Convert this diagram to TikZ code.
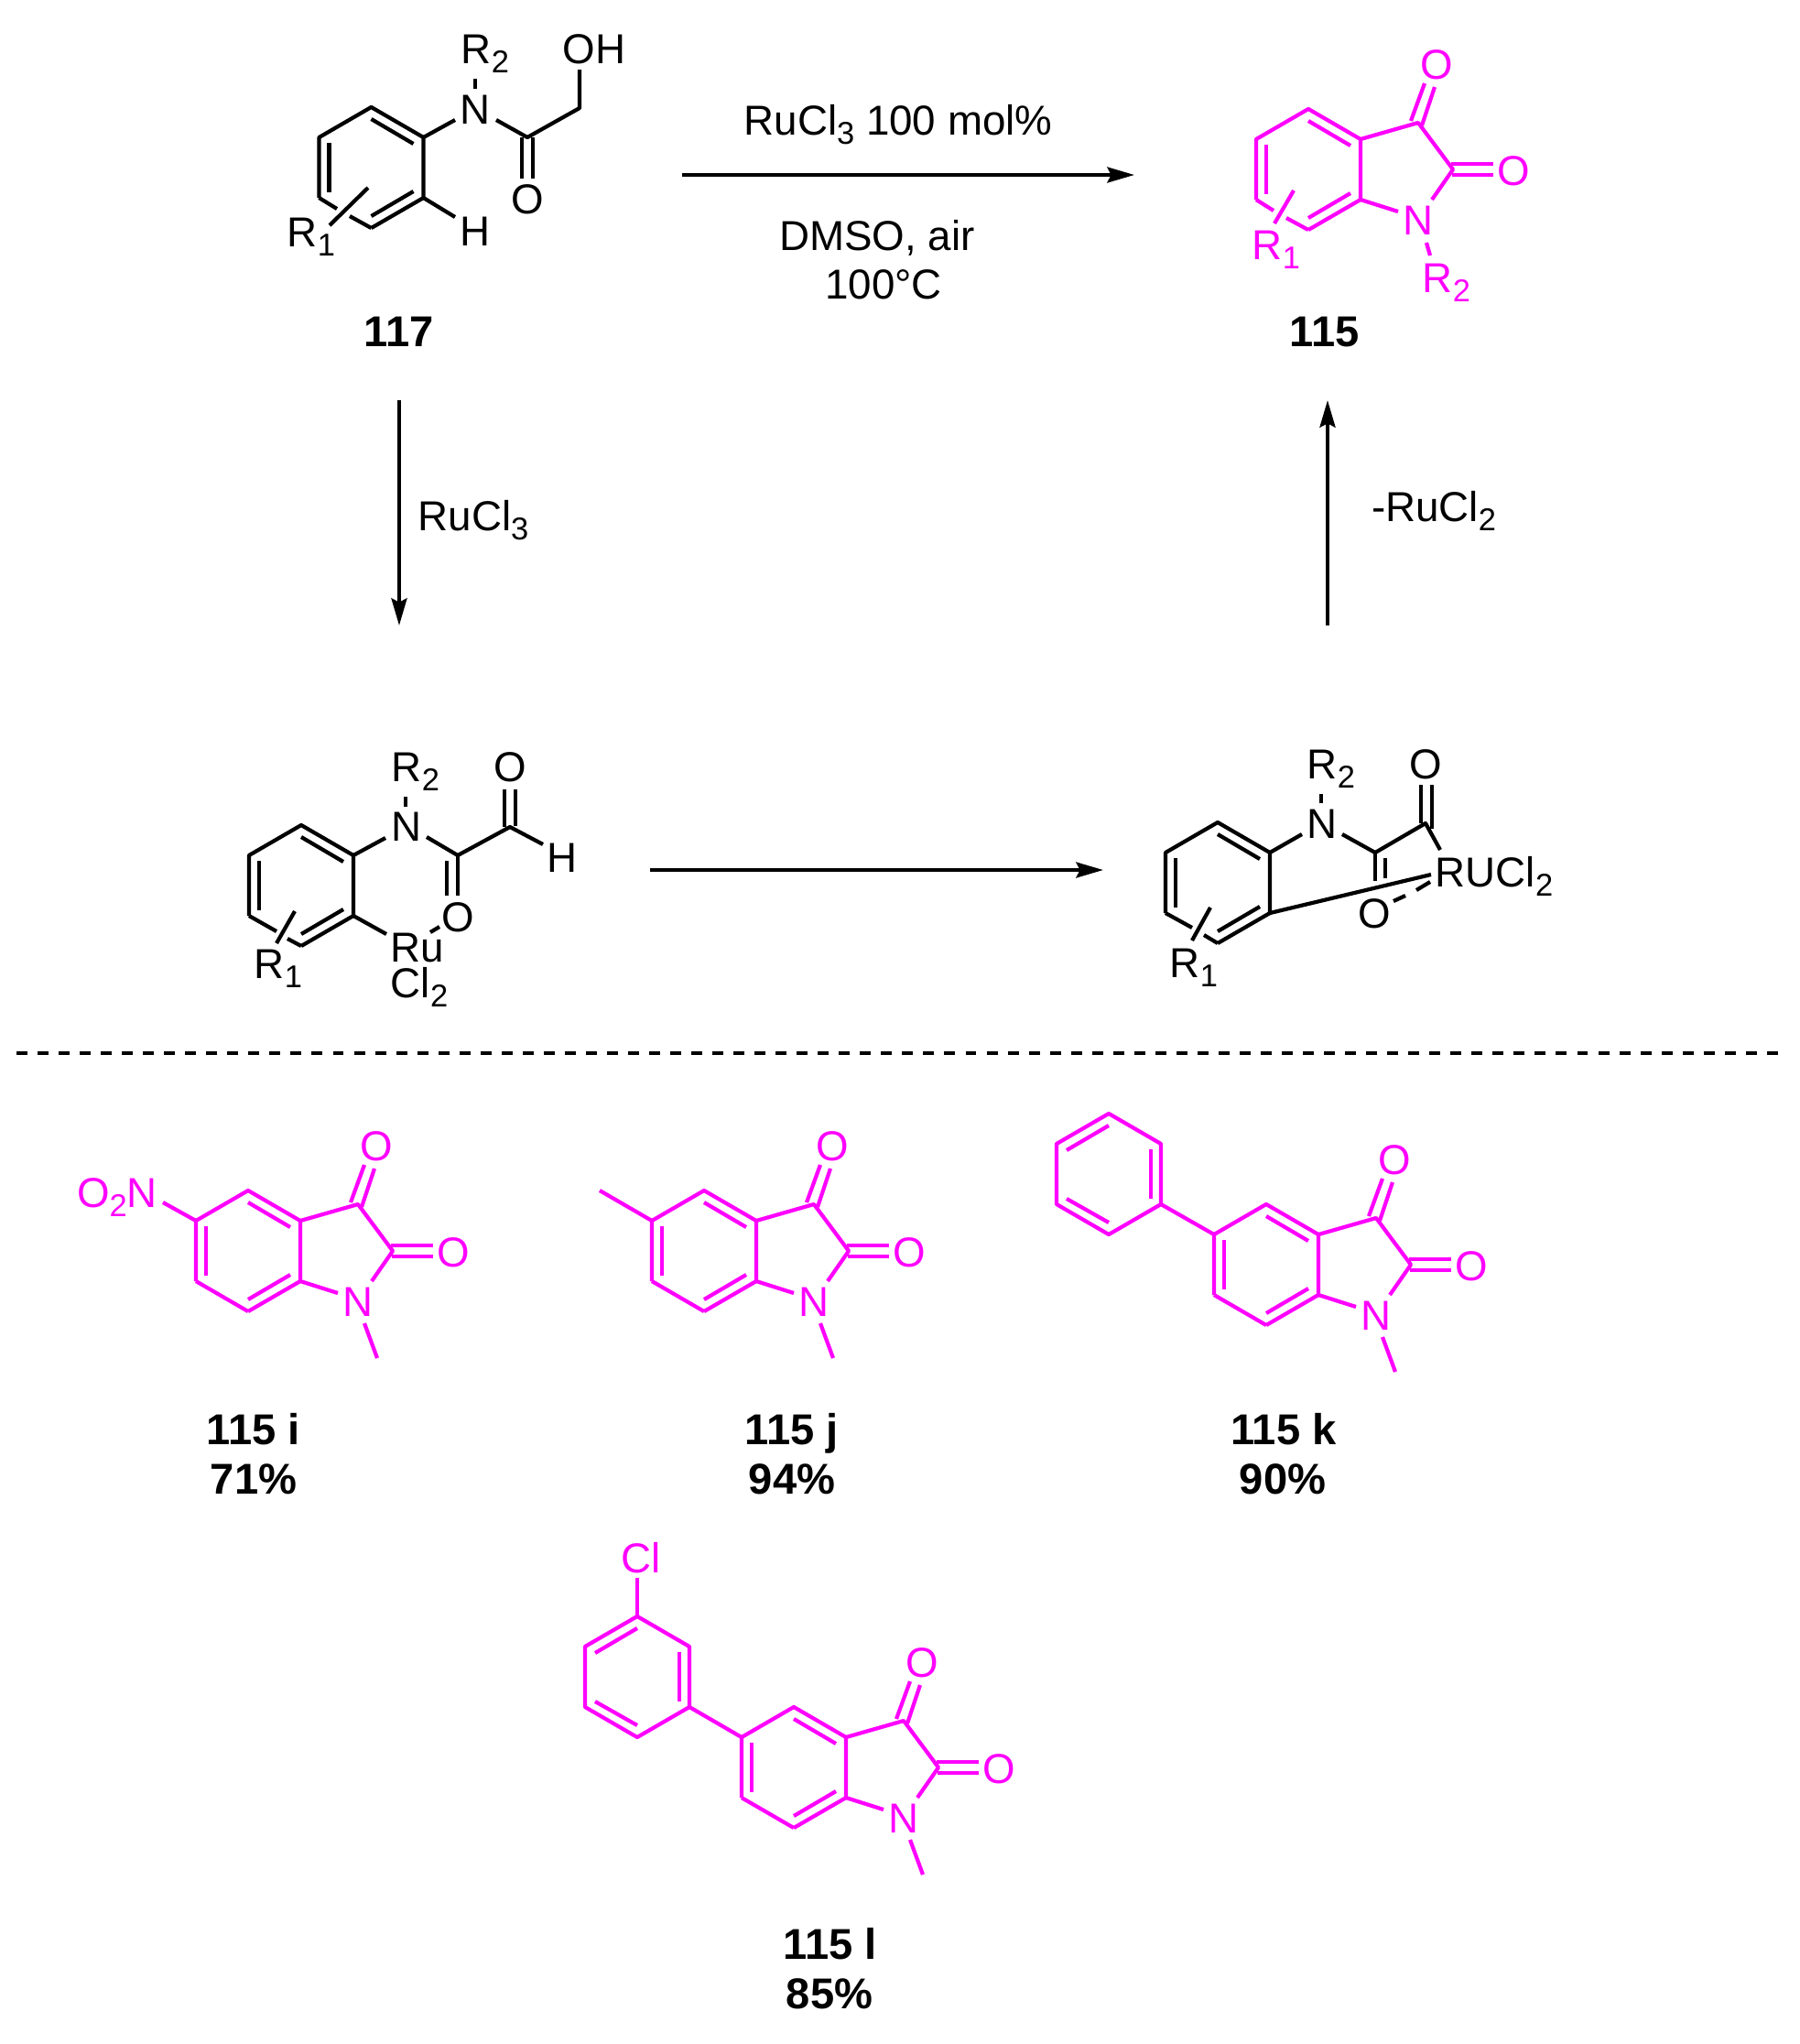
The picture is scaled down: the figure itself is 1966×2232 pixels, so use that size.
\documentclass[tikz,border=0pt]{standalone}
\usepackage{fontspec}
\setmainfont{Liberation Sans}
\usetikzlibrary{arrows.meta}
\definecolor{isatin}{RGB}{255,0,255}
\newcommand{\subnum}[1]{\raisebox{-3pt}{\fontsize{9.8pt}{9.8pt}\selectfont #1}}
\tikzset{
	bond/.style={line width=1.2pt, line join=round},
	atom/.style={inner sep=0pt, anchor=base, font=\fontsize{13pt}{13pt}\selectfont},
	cmpd/.style={inner sep=0pt, anchor=base, font=\bfseries\fontsize{13.4pt}{13.4pt}\selectfont},
	rxn/.style={line width=1.2pt, -{Stealth[length=8.4pt,width=4.8pt,inset=1.2pt]}},
	sep/.style={line width=1.2pt, dash pattern=on 3.4pt off 3.15pt}
}
%six-ring, bottom left edge left out
\newcommand{\ringbonds}{
	\draw[bond] (-57,33)--(-57,-33)--(0,-66)--(57,-33)--(57,33)--(0,66);
	\draw[bond] (0,-53)--(46,-26);
	\draw[bond] (46,26)--(0,53);
	\draw[bond] (-46,-27)--(-46,27);
}
%isatin skeleton, #1 is the prefix of the node names
\newcommand{\isatincore}[1]{
	\ringbonds
	\draw[bond] (57,-33)--(120,-51)--(158,0)--(135,33);
	\draw[bond] (57,33)--(98,46);
	\draw[bond] (112,-53)--(127,-94);
	\draw[bond] (124,-48)--(138,-90);
	\draw[bond] (156,-6)--(202,-6);
	\draw[bond] (157,6)--(202,6);
	\node[atom] (#1Oa) at (140,-99) {O};
	\node[atom] (#1Ob) at (224,17)  {O};
	\node[atom] (#1N)  at (120,71)  {N};
}
\newcommand{\phenyl}{
	\draw[bond] (-57,33)--(-57,-33)--(0,-66)--(57,-33)--(57,33)--(0,66)--cycle;
	\draw[bond] (-46,-26)--(0,-53);
	\draw[bond] (46,-27)--(46,27);
	\draw[bond] (-46,27)--(0,53);
}
\begin{document}
\begin{tikzpicture}[x=0.01cm,y=-0.01cm]
	\useasboundingbox (0,0) rectangle (1966,2232);
	
	%substrate
	\begin{scope}[shift={(405.5,183)}]
		\ringbonds
	\end{scope}
	\draw[bond] (348.5,216)--(368,228);
	\draw[bond] (382,236)--(405.5,249);
	\draw[bond] (402,205)--(360,246);
	\draw[bond] (462.5,150)--(497,131);
	\draw[bond] (542,131)--(576,150)--(633,118)--(633,76);
	\draw[bond] (570,150)--(570,195);
	\draw[bond] (582,150)--(582,195);
	\draw[bond] (519,86)--(519,97);
	\draw[bond] (462.5,216)--(497,237);
	\node[atom] (subN)  at (519,135)  {N};
	\node[atom] (subR)  at (530,69)   {R\subnum{2}};
	\node[atom] (subOH) at (649,69)   {OH};
	\node[atom] (subO)  at (576,233)  {O};
	\node[atom] (subH)  at (519,268)  {H};
	\node[atom] (subRa) at (340,269)  {R\subnum{1}};
	\node[cmpd] (lab117) at (436,378) {117};
	
	%product
	\begin{scope}[shift={(1429,185)},color=isatin]
		\isatincore{prod}
		\draw[bond] (-57,33)--(-38,45);
		\draw[bond] (-24,53)--(0,66);
		\draw[bond] (-16,23)--(-37,59);
		\draw[bond] (129,80)--(133,94);
		\node[atom] (prodR)  at (151,134) {R\subnum{2}};
		\node[atom] (prodRa) at (-35,98)  {R\subnum{1}};
	\end{scope}
	\node[cmpd] (lab115) at (1447,378) {115};
	
	%ruthenium complex, left
	\begin{scope}[shift={(329,967)}]
		\ringbonds
	\end{scope}
	\draw[bond] (272,1000)--(302,1017);
	\draw[bond] (314,1025)--(329,1033);
	\draw[bond] (322,995)--(302,1030);
	\draw[bond] (386,934)--(421,915);
	\draw[bond] (466,914)--(500,934)--(557,903)--(593,922);
	\draw[bond] (488,940)--(488,978);
	\draw[bond] (500,934)--(500,978);
	\draw[bond] (551,903)--(551,862);
	\draw[bond] (563,902)--(563,862);
	\draw[bond] (443,870)--(443,881);
	\draw[bond] (386,1000)--(422,1020);
	\draw[bond] (470,1018)--(480,1012);
	\node[atom] (ruN)  at (444,918)  {N};
	\node[atom] (ruR)  at (454,853)  {R\subnum{2}};
	\node[atom] (ruOa) at (557,853)  {O};
	\node[atom] (ruH)  at (614,952)  {H};
	\node[atom] (ruOb) at (500,1017) {O};
	\node[atom] (ruM)  at (456,1050) {Ru};
	\node[atom] (ruCl) at (458,1089) {Cl\subnum{2}};
	\node[atom] (ruRa) at (304,1068) {R\subnum{1}};
	
	%ruthenium complex, right
	\begin{scope}[shift={(1330,964)}]
		\ringbonds
	\end{scope}
	\draw[bond] (1273,997)--(1302,1013);
	\draw[bond] (1315,1021)--(1330,1030);
	\draw[bond] (1322,991)--(1302,1027);
	\draw[bond] (1387,931)--(1422,911);
	\draw[bond] (1466,911)--(1502,931)--(1557,899)--(1573,928);
	\draw[bond] (1502,931)--(1502,962);
	\draw[bond] (1513,937)--(1513,959);
	\draw[bond] (1552,899)--(1552,857);
	\draw[bond] (1564,905)--(1564,857);
	\draw[bond] (1443,867)--(1443,877);
	\draw[bond] (1387,997)--(1563,955);
	\draw[bond] (1547,972)--(1562,963);
	\draw[bond] (1522,984)--(1535,978);
	\node[atom] (rcN)  at (1444,915)  {N};
	\node[atom] (rcR)  at (1454,850)  {R\subnum{2}};
	\node[atom] (rcOa) at (1557,850)  {O};
	\node[atom] (rcOb) at (1501,1013) {O};
	\node[atom] (rcM)  at (1632,968)  {RUCl\subnum{2}};
	\node[atom] (rcRa) at (1304,1067) {R\subnum{1}};
	
	%arrows
	\coordinate (topa) at (745,191);
	\coordinate (topb) at (1239,191);
	\coordinate (lefta) at (436,437);
	\coordinate (leftb) at (436,683);
	\coordinate (righta) at (1450,683);
	\coordinate (rightb) at (1450,437);
	\coordinate (mida) at (710,950);
	\coordinate (midb) at (1205,950);
	\draw[rxn] (topa)--(topb);
	\draw[rxn] (lefta)--(leftb);
	\draw[rxn] (righta)--(rightb);
	\draw[rxn] (mida)--(midb);
	\node[atom] (catA)  at (981,147)  {RuCl\subnum{3} 100 mol\%};
	\node[atom] (solv)  at (958,273)  {DMSO, air};
	\node[atom] (temp)  at (965,326)  {100°C};
	\node[atom] (catB)  at (517,579)  {RuCl\subnum{3}};
	\node[atom] (loss)  at (1566,569) {-RuCl\subnum{2}};
	
	%separator
	\coordinate (sepa) at (18,1150);
	\coordinate (sepb) at (1950,1150);
	\draw[sep] (sepa)--(sepb);
	
	%scope of the reaction
	\begin{scope}[shift={(271,1366)},color=isatin]
		\isatincore{i}
		\draw[bond] (-57,33)--(0,66);
		\draw[bond] (127,79)--(141,117);
		\draw[bond] (-93,-53)--(-57,-33);
		\node[atom] (iNO) at (-143,-48) {O\subnum{2}N};
	\end{scope}
	\begin{scope}[shift={(769,1366)},color=isatin]
		\isatincore{j}
		\draw[bond] (-57,33)--(0,66);
		\draw[bond] (127,79)--(141,117);
		\draw[bond] (-114,-66)--(-57,-33);
	\end{scope}
	\begin{scope}[shift={(1383,1381)},color=isatin]
		\isatincore{k}
		\draw[bond] (-57,33)--(0,66);
		\draw[bond] (127,79)--(141,117);
		\draw[bond] (-115,-66)--(-57,-33);
	\end{scope}
	\begin{scope}[shift={(1211,1282)},color=isatin]
		\phenyl
	\end{scope}
	\begin{scope}[shift={(867,1930)},color=isatin]
		\isatincore{l}
		\draw[bond] (-57,33)--(0,66);
		\draw[bond] (127,79)--(141,117);
		\draw[bond] (-114,-66)--(-57,-33);
	\end{scope}
	\begin{scope}[shift={(696,1831)},color=isatin]
		\phenyl
		\draw[bond] (0,-66)--(0,-108);
		\node[atom] (lCl) at (4,-114) {Cl};
	\end{scope}
	
	%labels
	\node[cmpd] (labi)  at (277,1577)  {115 i};
	\node[cmpd] (yldi)  at (277,1631)  {71\%};
	\node[cmpd] (labj)  at (865,1577)  {115 j};
	\node[cmpd] (yldj)  at (865,1631)  {94\%};
	\node[cmpd] (labk)  at (1402,1577) {115 k};
	\node[cmpd] (yldk)  at (1401,1631) {90\%};
	\node[cmpd] (labl)  at (907,2139)  {115 l};
	\node[cmpd] (yldl)  at (906,2193)  {85\%};
\end{tikzpicture}
\end{document}
